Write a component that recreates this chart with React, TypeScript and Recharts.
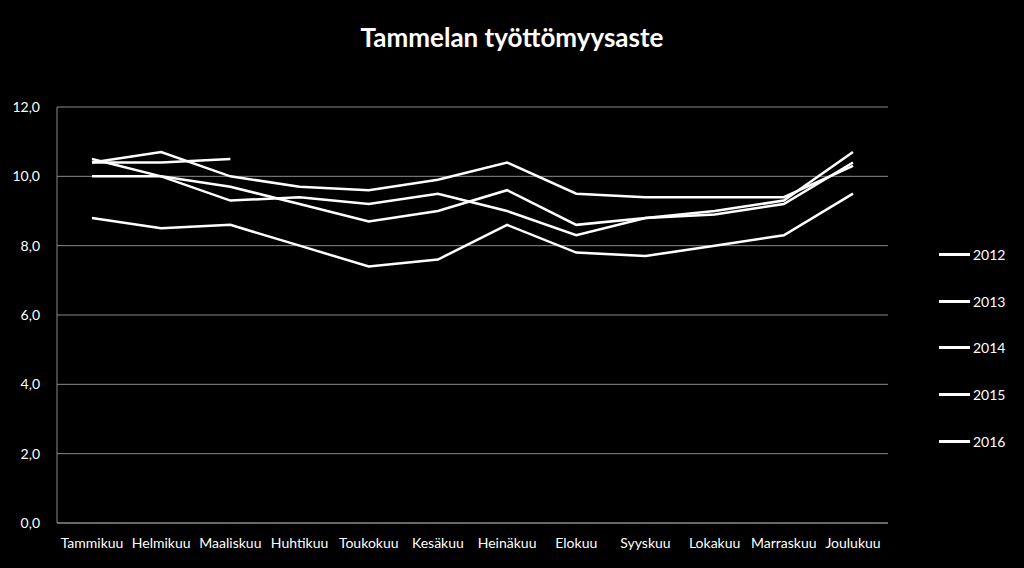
import { LineChart, Line, XAxis, YAxis, CartesianGrid } from 'recharts'

const MONTHS = [
  'Tammikuu', 'Helmikuu', 'Maaliskuu', 'Huhtikuu', 'Toukokuu', 'Kesäkuu',
  'Heinäkuu', 'Elokuu', 'Syyskuu', 'Lokakuu', 'Marraskuu', 'Joulukuu',
]
const YEARS = ['2012', '2013', '2014', '2015', '2016']

const Y2012 = [8.8, 8.5, 8.6, 8.0, 7.4, 7.6, 8.6, 7.8, 7.7, 8.0, 8.3, 9.5]
const Y2013 = [10.0, 10.0, 9.7, 9.2, 8.7, 9.0, 9.6, 8.6, 8.8, 9.0, 9.3, 10.7]
const Y2014 = [10.5, 10.0, 9.3, 9.4, 9.2, 9.5, 9.0, 8.3, 8.8, 8.9, 9.2, 10.4]
const Y2015 = [10.4, 10.7, 10.0, 9.7, 9.6, 9.9, 10.4, 9.5, 9.4, 9.4, 9.4, 10.3]
const Y2016 = [10.4, 10.4, 10.5]

const Y_TICKS = [0, 2, 4, 6, 8, 10, 12]

const SERIES = [Y2012, Y2013, Y2014, Y2015, Y2016]

const data = MONTHS.map((m, i) => {
  const row: any = { month: m }
  YEARS.forEach((y, j) => {
    row[y] = SERIES[j][i]
  })
  return row
})

const FONT = 'Lato, "Open Sans", sans-serif'

export default function App() {
  return (
    <div
      style={{
        position: 'absolute',
        left: 0,
        top: 0,
        width: 1024,
        height: 568,
        background: '#000',
        fontFamily: FONT,
        overflow: 'hidden',
      }}
    >
      <div
        style={{
          position: 'absolute',
          top: 21,
          width: 1024,
          textAlign: 'center',
          color: '#fff',
          fontSize: 26,
          fontWeight: 700,
        }}
      >
        Tammelan työttömyysaste
      </div>
      <LineChart
        width={1024}
        height={568}
        data={data}
        margin={{ top: 107, right: 136, left: 0, bottom: 0 }}
      >
        <CartesianGrid vertical={false} stroke="#8a8a8a" strokeWidth={1} />
        <XAxis
          dataKey="month"
          height={45}
          tickLine={false}
          axisLine={{ stroke: '#8a8a8a' }}
          tick={{ fill: '#fff', fontSize: 14, fontFamily: FONT }}
          tickMargin={9}
          interval={0}
          padding={{ left: 35, right: 35 }}
        />
        <YAxis
          width={57}
          domain={[0, 12]}
          ticks={Y_TICKS}
          tickLine={false}
          axisLine={{ stroke: '#8a8a8a' }}
          tick={{ fill: '#fff', fontSize: 14, fontFamily: FONT }}
          tickMargin={11}
          tickFormatter={(v: number) => v.toFixed(1).replace('.', ',')}
        />
        {YEARS.map((y) => (
          <Line
            key={y}
            dataKey={y}
            stroke="#fff"
            strokeWidth={2.5}
            dot={false}
            activeDot={false}
            isAnimationActive={false}
            connectNulls={false}
          />
        ))}
      </LineChart>
      <div style={{ position: 'absolute', left: 939, top: 244 }}>
        {YEARS.map((y) => (
          <div key={y} style={{ display: 'flex', alignItems: 'center', height: 46.7 }}>
            <div style={{ width: 31, height: 3, background: '#fff', marginRight: 3, marginTop: -26 }} />
            <span style={{ color: '#fff', fontSize: 14, marginTop: -26 }}>{y}</span>
          </div>
        ))}
      </div>
    </div>
  )
}
